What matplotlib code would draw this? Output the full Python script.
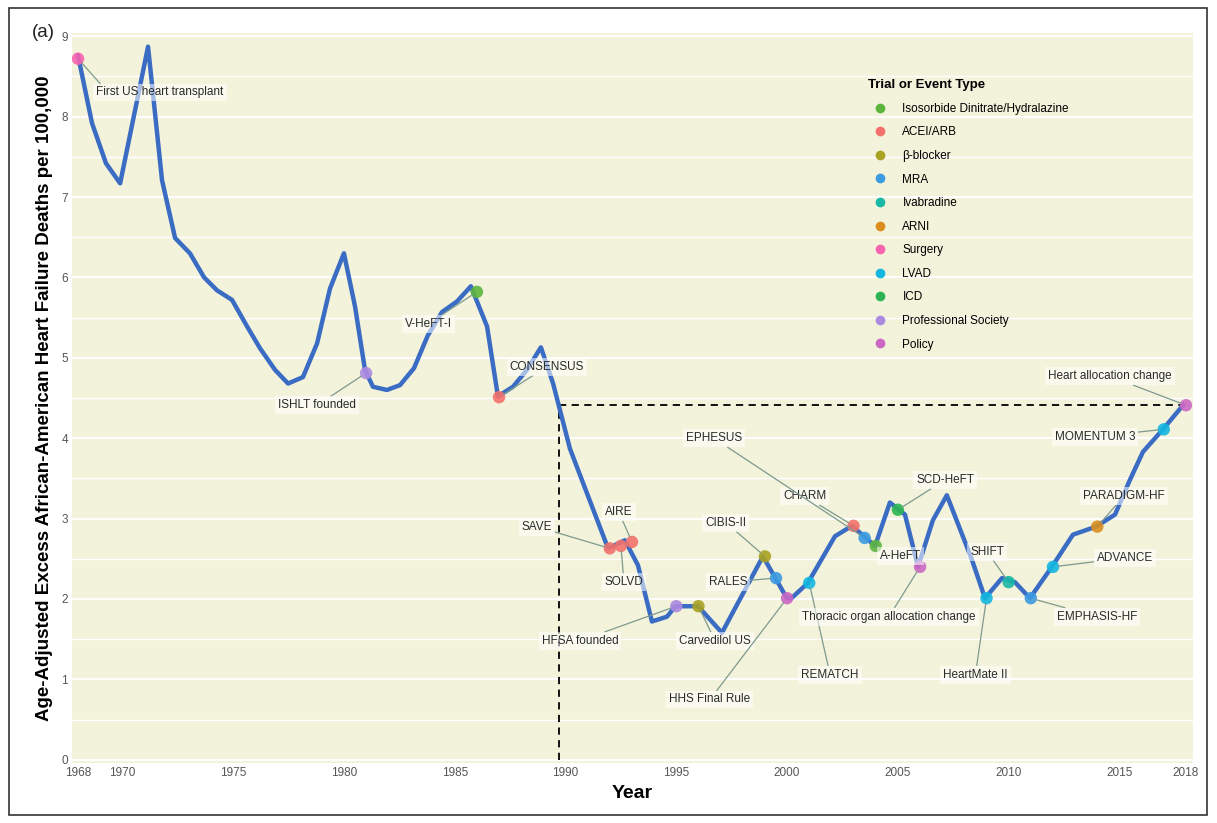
import matplotlib
matplotlib.use("Agg")
import matplotlib.pyplot as plt
import numpy as np
from matplotlib.lines import Line2D
from matplotlib.patches import Rectangle

plt.rcParams["font.family"] = ["Liberation Sans", "DejaVu Sans"]

# Excess heart failure mortality series
years = [
    1968.00, 1968.63, 1969.26, 1969.90, 1971.16, 1971.79, 1972.38, 1973.05,
    1973.69, 1974.27, 1974.95, 1975.63, 1976.21, 1976.89, 1977.48, 1978.15,
    1978.79, 1979.37, 1980.00, 1980.50, 1980.95, 1981.31, 1981.94, 1982.53,
    1983.16, 1983.79, 1984.43, 1985.10, 1985.73, 1986.46, 1986.95, 1987.63,
    1988.26, 1988.89, 1989.44, 1990.20, 1991.92, 1992.68, 1993.27, 1993.90,
    1994.58, 1994.96, 1995.98, 1997.06, 1998.91, 1999.99, 2000.20, 2000.94,
    2002.16, 2002.93, 2003.97, 2004.64, 2005.32, 2005.91, 2006.58, 2007.21,
    2008.34, 2008.93, 2009.70, 2010.28, 2010.96, 2011.95, 2012.90, 2013.94,
    2014.80, 2015.47, 2016.06, 2016.96, 2017.87,
]
deaths = [
    8.76, 7.92, 7.42, 7.17, 8.87, 7.21, 6.49, 6.30,
    6.00, 5.84, 5.72, 5.39, 5.12, 4.85, 4.68, 4.76,
    5.18, 5.86, 6.30, 5.64, 4.85, 4.64, 4.60, 4.66,
    4.87, 5.28, 5.57, 5.70, 5.89, 5.39, 4.52, 4.64,
    4.85, 5.13, 4.68, 3.87, 2.63, 2.73, 2.42, 1.72,
    1.78, 1.91, 1.91, 1.58, 2.53, 2.01, 2.01, 2.20,
    2.78, 2.91, 2.66, 3.20, 3.05, 2.40, 2.98, 3.29,
    2.49, 2.01, 2.26, 2.21, 2.01, 2.40, 2.80, 2.90,
    3.05, 3.48, 3.83, 4.11, 4.41,
]

# Trials and events
event_names = [
    "First US heart transplant", "ISHLT founded", "V-HeFT-I", "CONSENSUS",
    "SAVE", "SOLVD", "AIRE", "HFSA founded", "Carvedilol US", "CIBIS-II",
    "RALES", "HHS Final Rule", "REMATCH", "CHARM", "EPHESUS", "A-HeFT",
    "SCD-HeFT", "Thoracic organ allocation change", "HeartMate II", "SHIFT",
    "EMPHASIS-HF", "ADVANCE", "PARADIGM-HF", "MOMENTUM 3",
    "Heart allocation change",
]
event_years = [
    1968.0, 1981.0, 1986.0, 1987.0, 1992.0, 1992.5, 1993.0, 1995.0, 1996.0,
    1999.0, 1999.5, 2000.0, 2001.0, 2003.0, 2003.5, 2004.0, 2005.0, 2006.0,
    2009.0, 2010.0, 2011.0, 2012.0, 2014.0, 2017.0, 2018.0,
]
event_values = [
    8.72, 4.81, 5.82, 4.51, 2.63, 2.66, 2.71, 1.91, 1.91, 2.53, 2.26, 2.01,
    2.20, 2.91, 2.76, 2.66, 3.11, 2.40, 2.01, 2.21, 2.01, 2.40, 2.90, 4.11,
    4.41,
]
event_types = [
    "Surgery", "Professional Society", "Isosorbide Dinitrate/Hydralazine",
    "ACEI/ARB", "ACEI/ARB", "ACEI/ARB", "ACEI/ARB", "Professional Society",
    "β-blocker", "β-blocker", "MRA", "Policy", "LVAD", "ACEI/ARB", "MRA",
    "Isosorbide Dinitrate/Hydralazine", "ICD", "Policy", "LVAD", "Ivabradine",
    "MRA", "LVAD", "ARNI", "LVAD", "Policy",
]
# label anchor (year, value)
label_x = [
    1971.7, 1978.79, 1983.8, 1989.16, 1988.7, 1992.64, 1992.41, 1990.65,
    1996.75, 1997.24, 1997.33, 1996.52, 2001.94, 2000.8, 1996.7, 2005.1,
    2007.13, 2004.6, 2008.5, 2009.02, 2013.98, 2015.25, 2015.2, 2013.9,
    2014.57,
]
label_y = [
    8.30, 4.41, 5.42, 4.89, 2.90, 2.21, 3.08, 1.48, 1.48, 2.95, 2.21, 0.75,
    1.06, 3.28, 4.00, 2.54, 3.48, 1.78, 1.06, 2.59, 1.78, 2.51, 3.28, 4.02,
    4.77,
]

type_order = [
    "Isosorbide Dinitrate/Hydralazine", "ACEI/ARB", "β-blocker", "MRA",
    "Ivabradine", "ARNI", "Surgery", "LVAD", "ICD", "Professional Society",
    "Policy",
]
type_colors = [
    "#5DB53E", "#F4716B", "#A9A223", "#3C9BE0", "#19B8A4", "#DB8E1E",
    "#F763AE", "#13B7E0", "#2CB552", "#AC8AE0", "#CC67C4",
]
color_of = dict(zip(type_order, type_colors))

# leader lines aim at the label centre unless attached elsewhere
leader_attach = {"First US heart transplant": (0.05, 1.0)}

xticks = [1968, 1970, 1975, 1980, 1985, 1990, 1995, 2000, 2005, 2010, 2015, 2018]

fig = plt.figure(figsize=(12.17, 8.23), dpi=100)
fig.patches.append(Rectangle((0.007, 0.01), 0.985, 0.98, transform=fig.transFigure,
                             fill=False, edgecolor="#333333", linewidth=1.2))
ax = fig.add_axes([0.0592, 0.0729, 0.9211, 0.887])
ax.set_facecolor("#F3F2DB")
for s in ax.spines.values():
    s.set_visible(False)

ax.set_xlim(1967.73, 2018.32)
ax.set_ylim(-0.04, 9.04)
ax.set_xticks(xticks)
ax.set_yticks(range(0, 10))
ax.set_yticks(np.arange(0.5, 9, 1.0), minor=True)
ax.tick_params(axis="both", which="both", length=0, labelsize=8.5, labelcolor="#555555", pad=3)
ax.grid(axis="y", which="major", color="white", linewidth=1.4)
ax.grid(axis="y", which="minor", color="white", linewidth=1.0)
ax.set_axisbelow(True)

ax.set_xlabel("Year", fontsize=14, fontweight="bold", labelpad=4)
ax.set_ylabel("Age-Adjusted Excess African-American Heart Failure Deaths per 100,000",
              fontsize=13.5, fontweight="bold", labelpad=6)

# reference level: latest value, back to where the curve first dropped below it
yr = np.array(years)
dv = np.array(deaths)
ref = dv[-1]
i = np.where((dv[:-1] > ref) & (dv[1:] <= ref))[0][0]
x_cross = yr[i] + (dv[i] - ref) / (dv[i] - dv[i + 1]) * (yr[i + 1] - yr[i])
ax.plot([x_cross, yr[-1]], [ref, ref], ls=(0, (4, 3)), color="black", lw=1.3, zorder=2)
ax.plot([x_cross, x_cross], [0, ref], ls=(0, (4, 3)), color="black", lw=1.3, zorder=2)

ax.plot(years, deaths, color="#3A6CC4", lw=3.2, solid_joinstyle="round", zorder=3)

for name, ex, ev, et, lx, ly in zip(event_names, event_years, event_values,
                                     event_types, label_x, label_y):
    ax.scatter(ex, ev, s=80, color=color_of[et], alpha=0.9, edgecolors="none", zorder=4)
    ax.annotate(name, xy=(ex, ev), xytext=(lx, ly), ha="center", va="center",
                fontsize=8.5, color="#2A2A2A", zorder=5,
                bbox=dict(boxstyle="square,pad=0.25", fc="white", ec="none", alpha=0.55),
                arrowprops=dict(arrowstyle="-", color="#7E9A8E", lw=0.9,
                                shrinkA=0, shrinkB=4,
                                relpos=leader_attach.get(name, (0.5, 0.5))))

handles = [Line2D([], [], ls="none", marker="o", markersize=7, color=c,
                  markeredgecolor="none") for c in type_colors]
leg = ax.legend(handles, type_order, title="Trial or Event Type", loc="upper left",
                bbox_to_anchor=(0.706, 0.943), frameon=False, fontsize=8.5,
                labelspacing=0.98, handletextpad=0.9, borderaxespad=0)
leg.get_title().set_fontweight("bold")
leg.get_title().set_fontsize(9.5)
leg._legend_box.align = "left"

fig.text(0.026, 0.955, "(a)", fontsize=13.5, color="#222222")

fig.savefig("out.png", dpi=100)
